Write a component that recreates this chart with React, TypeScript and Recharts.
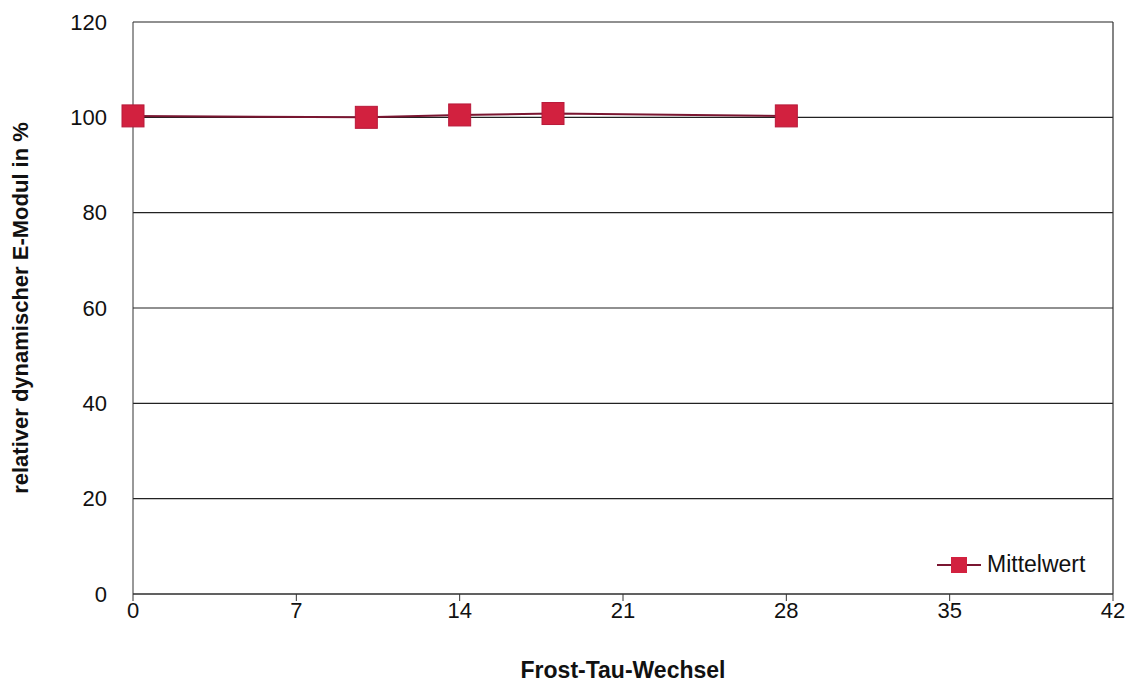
import React from "react";
import {
  LineChart,
  Line,
  XAxis,
  YAxis,
  CartesianGrid,
  Legend,
  ReferenceLine,
  Label,
} from "recharts";

// Frost-Tau-Wechsel (Zyklen) und Mittelwert des rel. dyn. E-Moduls
const zyklen = [0, 10, 14, 18, 28];
const mittelwert = [100.3, 100.0, 100.5, 100.8, 100.3];

const xTicks = [0, 7, 14, 21, 28, 35, 42];
const yTicks = [0, 20, 40, 60, 80, 100, 120];

const data = zyklen.map((z, i) => ({ zyklus: z, mittelwert: mittelwert[i] }));

const LINE_COLOR = "#7a1631";
const MARKER_COLOR = "#d2213f";
const FONT = "'Liberation Sans', Arial, sans-serif";

const SquareDot = (props: any) => {
  const { cx, cy } = props;
  if (cx == null || cy == null) return null;
  const s = 22;
  return (
    <rect
      x={cx - s / 2}
      y={cy - s / 2}
      width={s}
      height={s}
      fill={MARKER_COLOR}
      stroke="#b81a3a"
      strokeWidth={1}
    />
  );
};

const LegendContent = () => (
  <div style={{ display: "flex", alignItems: "center", fontFamily: FONT, fontSize: 23, color: "#111" }}>
    <svg width={44} height={22} style={{ marginRight: 6 }}>
      <line x1={0} y1={11} x2={44} y2={11} stroke={LINE_COLOR} strokeWidth={2} />
      <rect x={14} y={3} width={16} height={16} fill={MARKER_COLOR} />
    </svg>
    <span>Mittelwert</span>
  </div>
);

export default function App() {
  return (
    <div style={{ position: "absolute", left: 0, top: 0, background: "#fff" }}>
      <LineChart
        width={1132}
        height={684}
        data={data}
        margin={{ top: 22, right: 19, bottom: 40, left: 53 }}
      >
        <CartesianGrid vertical={false} stroke="#222" strokeWidth={1.2} />
        <XAxis
          dataKey="zyklus"
          type="number"
          domain={[0, 42]}
          ticks={xTicks}
          interval={0}
          stroke="#333"
          tickSize={7}
          tickMargin={1}
          height={50}
          tick={{ fill: "#111", fontSize: 22, fontFamily: FONT }}
        >
          <Label
            value="Frost-Tau-Wechsel"
            position="insideBottom"
            offset={-34}
            style={{ fill: "#111", fontSize: 23, fontWeight: "bold", fontFamily: FONT }}
          />
        </XAxis>
        <YAxis
          type="number"
          domain={[0, 120]}
          ticks={yTicks}
          interval={0}
          stroke="#333"
          tickLine={false}
          tickMargin={20}
          width={80}
          tick={{ fill: "#111", fontSize: 22, fontFamily: FONT }}
        >
          <Label
            value="relativer dynamischer E-Modul in %"
            angle={-90}
            position="insideLeft"
            offset={-33}
            style={{ textAnchor: "middle", fill: "#111", fontSize: 22, fontWeight: "bold", fontFamily: FONT }}
          />
        </YAxis>
        <ReferenceLine x={42} stroke="#333" strokeWidth={1.2} />
        <Legend
          layout="horizontal"
          verticalAlign="middle"
          align="center"
          content={<LegendContent />}
          wrapperStyle={{ position: "absolute", left: 937, top: 551, width: 180 }}
        />
        <Line
          dataKey="mittelwert"
          name="Mittelwert"
          stroke={LINE_COLOR}
          strokeWidth={2}
          dot={<SquareDot />}
          activeDot={false}
          isAnimationActive={false}
        />
      </LineChart>
    </div>
  );
}
